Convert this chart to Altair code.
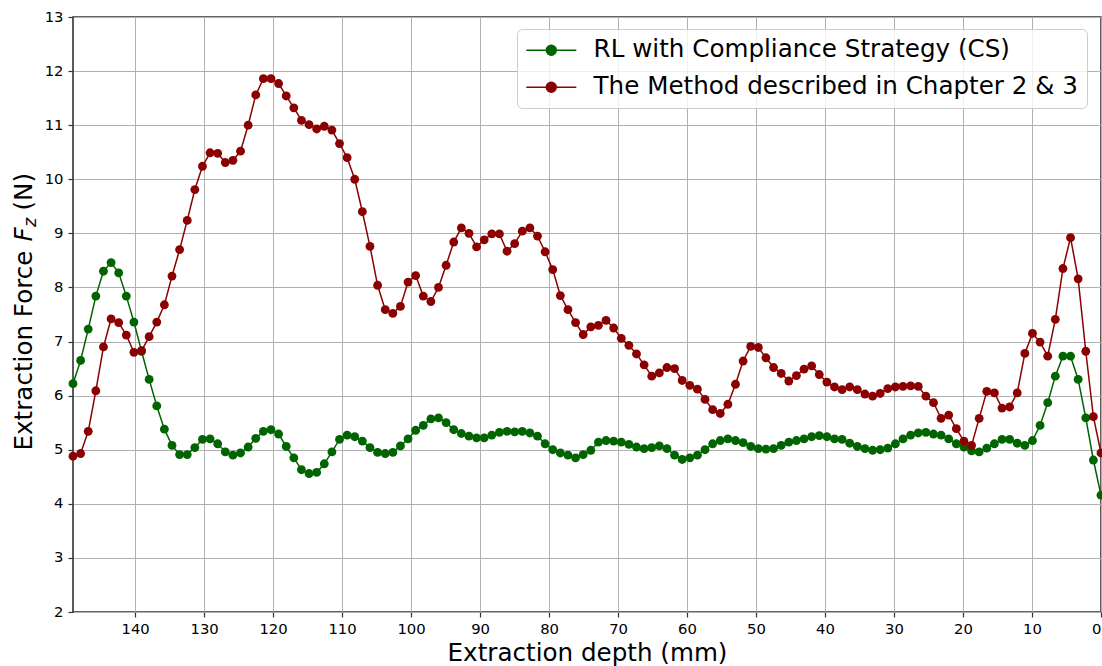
import altair as alt
import pandas as pd

# Extraction depth samples (mm), evenly spaced from 149 mm down to 0 mm
N_SAMPLES = 136
STEP = 149 / (N_SAMPLES - 1)
depth = [round(149 - i * STEP, 3) for i in range(N_SAMPLES)]

# Extraction force Fz (N) for the RL policy with compliance strategy
cs_force = [
    6.22, 6.65, 7.23, 7.84, 8.30, 8.46, 8.27, 7.84, 7.36, 6.82,
    6.30, 5.81, 5.38, 5.08, 4.91, 4.91, 5.04, 5.19, 5.20, 5.11,
    4.96, 4.90, 4.94, 5.05, 5.21, 5.34, 5.37, 5.29, 5.06, 4.85,
    4.63, 4.56, 4.58, 4.74, 4.96, 5.19, 5.27, 5.24, 5.16, 5.04,
    4.95, 4.93, 4.95, 5.07, 5.20, 5.36, 5.45, 5.57, 5.59, 5.50,
    5.37, 5.30, 5.25, 5.22, 5.22, 5.27, 5.32, 5.34, 5.33, 5.34,
    5.31, 5.25, 5.11, 5.00, 4.94, 4.90, 4.85, 4.91, 4.99, 5.14,
    5.17, 5.16, 5.14, 5.10, 5.05, 5.02, 5.04, 5.07, 5.02, 4.90,
    4.82, 4.85, 4.90, 5.00, 5.11, 5.17, 5.20, 5.17, 5.13, 5.06,
    5.02, 5.01, 5.02, 5.08, 5.14, 5.17, 5.20, 5.24, 5.26, 5.24,
    5.20, 5.19, 5.12, 5.06, 5.02, 4.99, 5.00, 5.03, 5.11, 5.20,
    5.27, 5.31, 5.32, 5.29, 5.27, 5.20, 5.11, 5.05, 4.98, 4.96,
    5.03, 5.11, 5.19, 5.19, 5.12, 5.08, 5.17, 5.45, 5.87, 6.36,
    6.73, 6.73, 6.30, 5.59, 4.81, 4.16,
]

# Extraction force Fz (N) for the method of Chapters 2 & 3
method_force = [
    4.88, 4.93, 5.34, 6.09, 6.90, 7.42, 7.35, 7.12, 6.80, 6.83,
    7.09, 7.36, 7.68, 8.21, 8.70, 9.24, 9.81, 10.24, 10.49, 10.48,
    10.31, 10.35, 10.52, 11.00, 11.56, 11.86, 11.86, 11.77, 11.54, 11.32,
    11.09, 11.01, 10.93, 10.98, 10.91, 10.66, 10.40, 10.00, 9.40, 8.76,
    8.04, 7.59, 7.52, 7.65, 8.10, 8.22, 7.84, 7.74, 8.00, 8.41,
    8.84, 9.10, 9.00, 8.75, 8.88, 8.99, 8.99, 8.67, 8.81, 9.04,
    9.10, 8.95, 8.66, 8.33, 7.85, 7.59, 7.35, 7.13, 7.27, 7.30,
    7.39, 7.25, 7.06, 6.93, 6.77, 6.57, 6.36, 6.42, 6.52, 6.50,
    6.28, 6.19, 6.12, 5.93, 5.74, 5.67, 5.84, 6.21, 6.64, 6.91,
    6.89, 6.70, 6.52, 6.41, 6.27, 6.37, 6.49, 6.55, 6.39, 6.25,
    6.16, 6.11, 6.16, 6.11, 6.03, 5.99, 6.04, 6.13, 6.16, 6.17,
    6.18, 6.17, 5.99, 5.87, 5.58, 5.64, 5.39, 5.16, 5.08, 5.58,
    6.08, 6.05, 5.77, 5.79, 6.05, 6.78, 7.15, 6.99, 6.73, 7.41,
    8.35, 8.92, 8.16, 6.82, 5.61, 4.94,
]

series_names = [
    "RL with Compliance Strategy (CS)",
    "The Method described in Chapter 2 & 3",
]
series_colors = ["#006400", "#8b0000"]

x_ticks = list(range(0, 150, 10))
y_ticks = list(range(2, 14))

FONT = "DejaVu Sans"
BIG = 24.6
W, H = 1028, 595

frames = []
for name, values in zip(series_names, [cs_force, method_force]):
    frames.append(pd.DataFrame({"depth": depth, "force": values, "series": name}))
data = pd.concat(frames, ignore_index=True)

# Legend glyph: a short line with a dot in the middle
LEGEND_GLYPH = "M-5,0L5,0M-1,0A1,1,0,1,1,1,0A1,1,0,1,1,-1,0Z"

x_enc = alt.X(
    "depth:Q",
    scale=alt.Scale(domain=[0, 149], reverse=True, nice=False, zero=False),
    axis=alt.Axis(values=x_ticks, title="Extraction depth (mm)", format="d"),
)
y_enc = alt.Y(
    "force:Q",
    scale=alt.Scale(domain=[2, 13], nice=False, zero=False),
    axis=alt.Axis(values=y_ticks, title=None, format="d"),
)
color_enc = alt.Color(
    "series:N",
    scale=alt.Scale(domain=series_names, range=series_colors),
    title=None,
    legend=alt.Legend(
        orient="none",
        legendX=444,
        legendY=12,
        symbolType=LEGEND_GLYPH,
        symbolSize=100,
        symbolStrokeWidth=1.5,
        symbolOffset=13,
        labelOffset=30,
        labelLimit=800,
        labelFontSize=BIG,
        labelFont=FONT,
        labelColor="#000000",
        rowPadding=12,
        padding=9,
        cornerRadius=5,
        fillColor="rgba(255,255,255,0.8)",
        strokeColor="#cccccc",
    ),
)

layers = []
for name in series_names:
    base = alt.Chart(data).transform_filter(alt.datum.series == name)
    layers.append(
        base.mark_line(strokeWidth=1.5).encode(x=x_enc, y=y_enc, color=color_enc)
    )
    layers.append(
        base.mark_circle(size=78, opacity=1).encode(
            x=x_enc, y=y_enc, color=color_enc, fill=color_enc
        )
    )

# Y-axis title with an italic F and subscript z, written bottom-to-top
TITLE_X = -41.5
title_parts = [
    ("Extraction Force ", 433.5, 0.0, BIG, "normal"),
    ("F", 224.5, 0.0, BIG, "italic"),
    ("z", 210.0, 4.5, 17.5, "italic"),
    (" (N)", 193.5, 0.0, BIG, "normal"),
]
for text, ypos, shift, size, style in title_parts:
    layers.append(
        alt.Chart(pd.DataFrame({"label": [text]}))
        .mark_text(
            angle=270,
            align="left",
            baseline="alphabetic",
            font=FONT,
            fontSize=size,
            fontStyle=style,
            color="#000000",
        )
        .encode(
            text="label:N",
            x=alt.value(TITLE_X + shift),
            y=alt.value(ypos),
        )
    )

chart = (
    alt.layer(*layers)
    .properties(
        width=W,
        height=H,
        padding={"left": 73, "top": 17, "right": 1, "bottom": 54},
        autosize=alt.AutoSizeParams(type="none"),
        background="#ffffff",
    )
    .configure_view(stroke="#333333", strokeWidth=1.6)
    .configure_axis(
        grid=True,
        gridColor="#b0b0b0",
        gridWidth=1,
        domain=False,
        tickColor="#333333",
        tickSize=5,
        tickWidth=1.2,
        labelFont=FONT,
        labelFontSize=14.8,
        labelColor="#000000",
        labelPadding=4,
        titleFont=FONT,
        titleFontSize=BIG,
        titleFontWeight="normal",
        titleColor="#000000",
        titlePadding=6,
    )
    .configure_axisY(labelPadding=5)
)

chart.save("out.html", embed_options={"renderer": "svg", "actions": False})
